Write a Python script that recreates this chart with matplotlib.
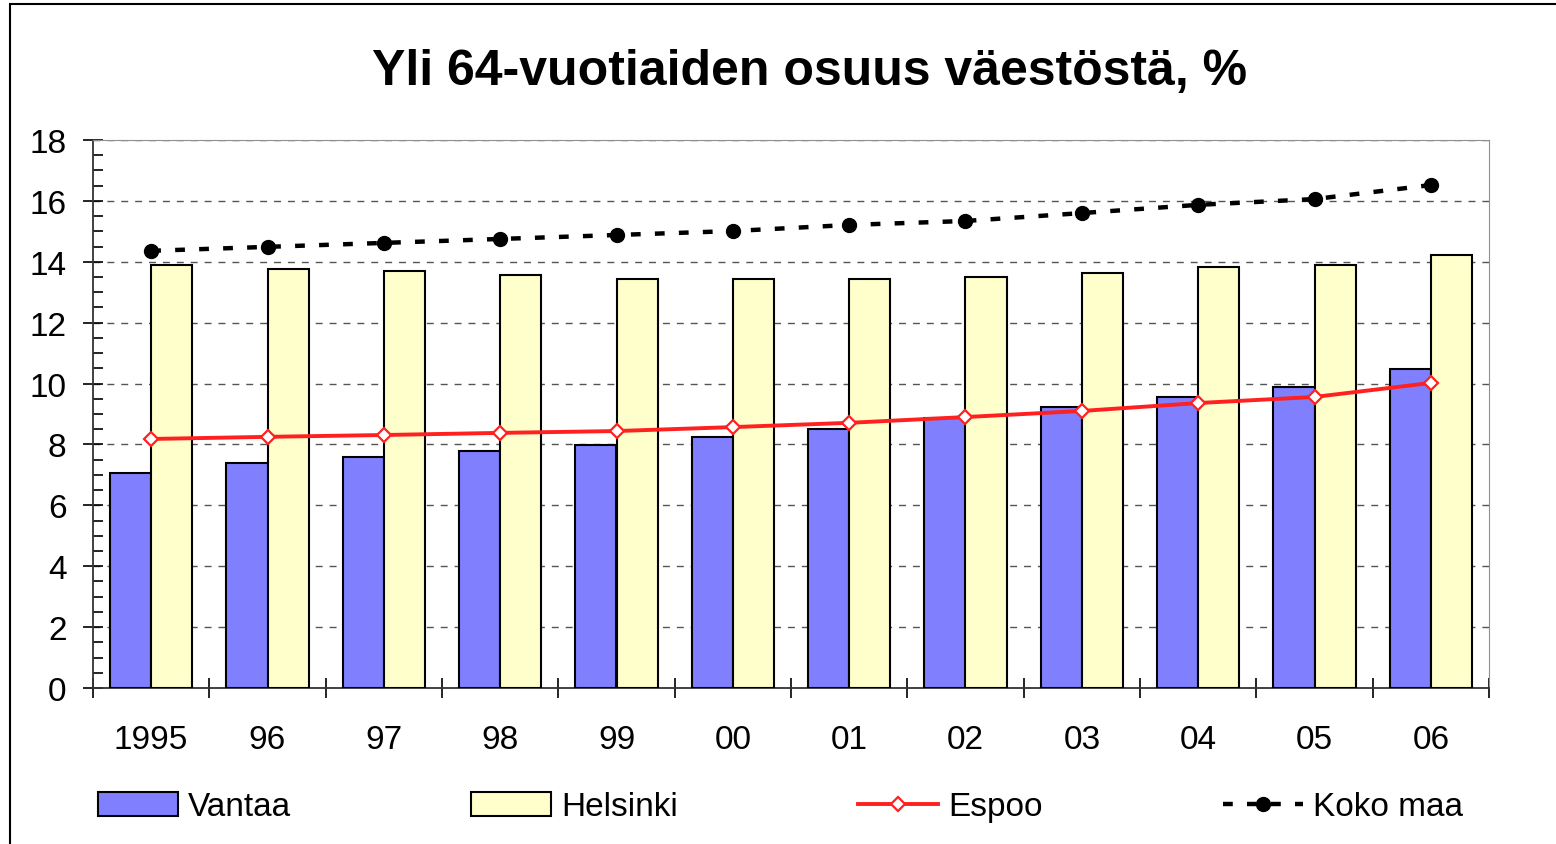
import matplotlib.pyplot as plt
import numpy as np
from matplotlib.patches import Rectangle
from matplotlib.ticker import MultipleLocator

plt.rcParams['font.family'] = ['Liberation Sans', 'DejaVu Sans']

# data
years = ['1995', '96', '97', '98', '99', '00', '01', '02', '03', '04', '05', '06']
vantaa = [7.06, 7.39, 7.59, 7.79, 7.98, 8.25, 8.51, 8.87, 9.23, 9.56, 9.89, 10.48]
helsinki = [13.9, 13.76, 13.7, 13.57, 13.44, 13.44, 13.44, 13.5, 13.63, 13.83, 13.9, 14.22]
espoo = [8.18, 8.25, 8.31, 8.38, 8.44, 8.57, 8.71, 8.9, 9.1, 9.36, 9.56, 10.02]
koko_maa = [14.36, 14.49, 14.62, 14.75, 14.88, 15.01, 15.21, 15.34, 15.6, 15.87, 16.06, 16.52]

fig = plt.figure(figsize=(15.56, 8.45), dpi=100)
ax = fig.add_axes([93 / 1556, 1 - 689 / 845, (1489 - 93) / 1556, (689 - 141) / 845])

x = np.arange(len(years))
w = 0.355
b1 = ax.bar(x - w / 2, vantaa, w, color='#8080FF', edgecolor='black', linewidth=1.5,
            label='Vantaa', zorder=3)
b2 = ax.bar(x + w / 2, helsinki, w, color='#FFFFCC', edgecolor='black', linewidth=1.5,
            label='Helsinki', zorder=3)
l1, = ax.plot(x, espoo, color='#FF2020', linewidth=2.8, marker='D', markersize=7.5,
              markerfacecolor='white', markeredgecolor='#FF2020', markeredgewidth=1.6,
              label='Espoo', zorder=4)
l2, = ax.plot(x, koko_maa, color='black', linewidth=3.2, linestyle=(0, (2.2, 3.2)),
              marker='o', markersize=10, label='Koko maa', zorder=4)

ax.set_xlim(-0.5, len(years) - 0.5)
ax.set_ylim(0, 18)
ax.yaxis.set_major_locator(MultipleLocator(2))
ax.yaxis.set_minor_locator(MultipleLocator(0.5))
ax.set_xticks(x)
ax.set_xticklabels(years)
ax.set_xticks(np.arange(-0.5, len(years)), minor=True)
ax.tick_params(axis='x', which='major', length=0, labelsize=24, pad=26)
ax.tick_params(axis='x', which='minor', length=15, direction='inout', width=1.2)
ax.tick_params(axis='y', which='major', length=14, direction='inout', width=1.2,
               labelsize=24, pad=12)
ax.tick_params(axis='y', which='minor', length=7, direction='in', width=1.2)

ax.grid(axis='y', which='major', linestyle=(0, (5, 5)), color='#555555',
        linewidth=1, zorder=0)
ax.spines['top'].set_color('#909090')
ax.spines['right'].set_color('#909090')
ax.spines['left'].set_linewidth(1.3)
ax.spines['bottom'].set_linewidth(1.3)
ax.spines['left'].set_color('#333333')
ax.spines['bottom'].set_color('#333333')

fig.text(810 / 1556, 1 - 72 / 845, 'Yli 64-vuotiaiden osuus väestöstä, %', ha='center',
         va='center', fontsize=36, fontweight='bold')

fig.legend([b1, b2, l1, l2], ['Vantaa', 'Helsinki', 'Espoo', 'Koko maa'],
           loc='center left', bbox_to_anchor=(98 / 1556, 1 - 808 / 845, 0.877, 0.0),
           ncol=4, mode='expand', frameon=False, fontsize=24, handlelength=2.4,
           handletextpad=0.3, borderaxespad=0, borderpad=0)

fig.patches.append(Rectangle((10 / 1556, -0.05), 1.1, 1 - 5 / 845 + 0.05,
                             transform=fig.transFigure, fill=False,
                             edgecolor='black', linewidth=1.5))

fig.savefig('out.png', dpi=100)
